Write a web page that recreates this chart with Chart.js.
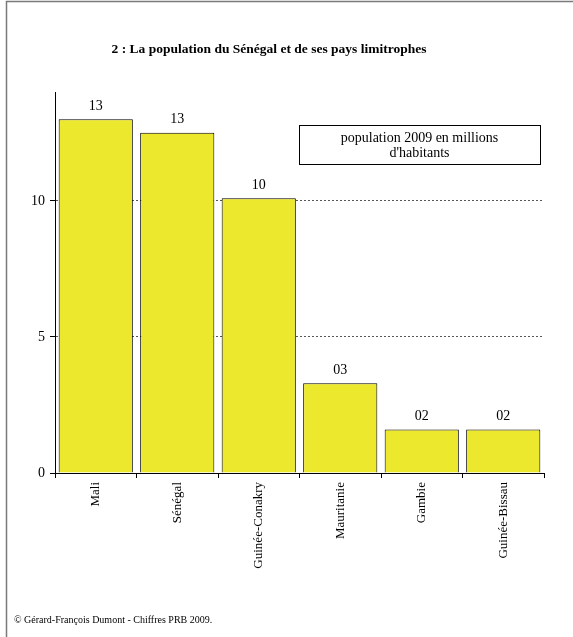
<!DOCTYPE html>
<html>
<head>
<meta charset="utf-8">
<script src="https://cdn.jsdelivr.net/npm/chart.js@4.4.0/dist/chart.umd.min.js"></script>
<style>
    html, body { margin: 0; padding: 0; background: #fff; }
    canvas { display: block; }
</style>
</head>
<body>
<canvas id="myChart" width="573" height="637"></canvas>
<script>
var countries = ['Mali', 'Sénégal', 'Guinée-Conakry', 'Mauritanie', 'Gambie', 'Guinée-Bissau'];
var population = [13.0, 12.5, 10.1, 3.3, 1.6, 1.6];
var yTicks = [0, 5, 10];
var seriesLabel = ['population 2009 en millions', "d'habitants"];
var chartTitle = '2 : La population du Sénégal et de ses pays limitrophes';
var sourceText = '© Gérard-François Dumont - Chiffres PRB 2009.';

var serif = "'Liberation Serif', 'Times New Roman', serif";

// cadre, titre, encadré de légende, source et étiquettes des barres
var decorPlugin = {
    id: 'decor',
    beforeDraw: function (chart) {
        var ctx = chart.ctx;
        ctx.save();
        ctx.strokeStyle = '#7a7a7a';
        ctx.lineWidth = 1.5;
        ctx.strokeRect(6.5, 1.5, 700, 700);
        ctx.restore();
    },
    afterDraw: function (chart) {
        var ctx = chart.ctx;
        ctx.save();
        ctx.fillStyle = '#000';
        ctx.textAlign = 'center';
        ctx.textBaseline = 'middle';

        ctx.font = 'bold 13.5px ' + serif;
        ctx.fillText(chartTitle, 269, 50);

        // encadré "population 2009 ..."
        ctx.lineWidth = 1;
        ctx.strokeStyle = '#000';
        ctx.strokeRect(299.5, 125.5, 241, 39);
        ctx.font = '14px ' + serif;
        ctx.fillText(seriesLabel[0], 419.5, 138);
        ctx.fillText(seriesLabel[1], 419.5, 153);

        // valeurs au-dessus des barres
        var meta = chart.getDatasetMeta(0);
        meta.data.forEach(function (bar, i) {
            var txt = String(Math.round(population[i])).padStart(2, '0');
            ctx.fillText(txt, bar.x, bar.y - 13);
        });

        ctx.textAlign = 'left';
        ctx.font = '10px ' + serif;
        ctx.fillText(sourceText, 14, 620);
        ctx.restore();
    }
};

var ctx = document.getElementById('myChart').getContext('2d');
var myChart = new Chart(ctx, {
    type: 'bar',
    data: {
        labels: countries,
        datasets: [{
            label: seriesLabel.join(' '),
            data: population,
            backgroundColor: '#ece82e',
            borderColor: '#000',
            borderWidth: 1,
            barPercentage: 0.91,
            categoryPercentage: 1
        }]
    },
    options: {
        responsive: false,
        animation: false,
        devicePixelRatio: 1,
        layout: {
            padding: { left: 0, right: 29, top: 92, bottom: 0 }
        },
        plugins: {
            legend: { display: false },
            title: { display: false },
            tooltip: { enabled: false }
        },
        scales: {
            x: {
                afterFit: function (scale) { scale.height = 164; },
                grid: {
                    offset: true,
                    drawOnChartArea: false,
                    drawTicks: true,
                    tickLength: 5,
                    tickColor: '#000'
                },
                border: { color: '#000', width: 1 },
                ticks: {
                    minRotation: 90,
                    maxRotation: 90,
                    padding: 4,
                    color: '#000',
                    font: { family: serif, size: 13 }
                }
            },
            y: {
                min: 0,
                max: 14,
                afterFit: function (scale) { scale.width = 55; },
                afterBuildTicks: function (scale) {
                    scale.ticks = yTicks.map(function (v) { return { value: v }; });
                },
                grid: {
                    color: function (c) { return c.tick && c.tick.value === 0 ? 'rgba(0,0,0,0)' : '#555'; },
                    tickColor: '#000',
                    tickLength: 5,
                    tickBorderDash: []
                },
                border: { color: '#000', width: 1, dash: [2, 2] },
                ticks: {
                    padding: 5,
                    color: '#000',
                    font: { family: serif, size: 14 }
                }
            }
        }
    },
    plugins: [decorPlugin]
});
</script>
</body>
</html>
